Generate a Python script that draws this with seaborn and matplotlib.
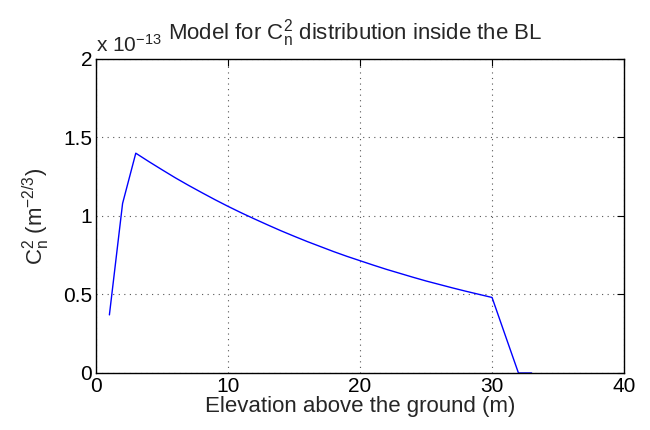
import numpy as np
import pandas as pd
import seaborn as sns
import matplotlib.pyplot as plt

# elevation (m) and Cn2 values (x 1e-13)
elevation = [1, 2, 3, 4, 5, 6, 7, 8, 9, 10, 11, 12, 13, 14, 15, 16, 17,
             18, 19, 20, 21, 22, 23, 24, 25, 26, 27, 28, 29, 30, 31, 32, 33]
cn2 = [0.37, 1.08, 1.40, 1.346, 1.294, 1.243, 1.195, 1.149, 1.104, 1.061,
       1.020, 0.981, 0.943, 0.906, 0.871, 0.837, 0.805, 0.773, 0.743, 0.715,
       0.687, 0.660, 0.635, 0.610, 0.586, 0.564, 0.542, 0.521, 0.501, 0.481,
       0.24, 0.0, 0.0]

df = pd.DataFrame({"h": elevation, "cn2": cn2})

sns.set_style("white")
plt.rcParams["font.family"] = ["Liberation Sans", "DejaVu Sans"]
plt.rcParams["mathtext.fontset"] = "custom"
plt.rcParams["mathtext.rm"] = "Liberation Sans"
plt.rcParams["mathtext.it"] = "Liberation Sans"

fig = plt.figure(figsize=(6.5, 4.3), dpi=100)
ax = fig.add_axes([0.148, 0.1326, 0.812, 0.7302])

sns.lineplot(data=df, x="h", y="cn2", color="#0000ff", linewidth=1, ax=ax)

ax.set_xlim(0, 40)
ax.set_ylim(0, 2)
ax.set_xticks([0, 10, 20, 30, 40])
ax.set_yticks([0, 0.5, 1, 1.5, 2])
ax.set_yticklabels(["0", "0.5", "1", "1.5", "2"])
ax.grid(True, linestyle=(0, (1, 4)), color="#555555", linewidth=0.8)
ax.tick_params(direction="in", top=True, right=True, labelsize=15, length=5,
               width=0.8, colors="black", pad=3)
for s in ax.spines.values():
    s.set_color("black")
    s.set_linewidth(1)

ax.set_xlabel("Elevation above the ground (m)", fontsize=16, labelpad=0)
ax.set_ylabel(r"C$_n^2$ (m$^{-2/3}$)", fontsize=16, labelpad=8)
ax.set_title(r"Model for C$_n^2$ distribution inside the BL", fontsize=16, pad=14, x=0.49)
ax.text(0.0, 1.01, r"x 10$^{-13}$", transform=ax.transAxes, fontsize=15,
        ha="left", va="bottom")

fig.savefig("out.png", dpi=100)
